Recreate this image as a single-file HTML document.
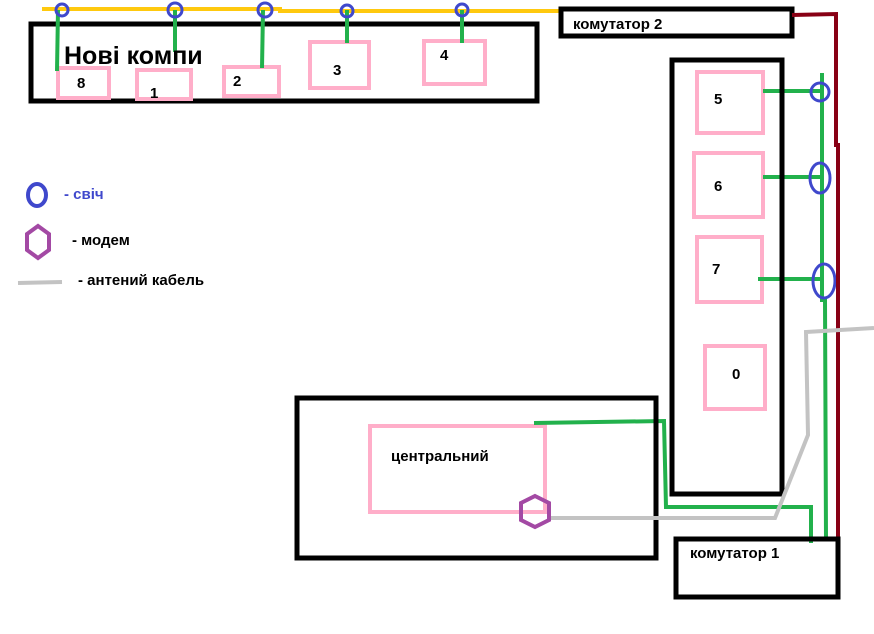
<!DOCTYPE html>
<html><head><meta charset="utf-8"><style>
html,body{margin:0;padding:0;background:#fff;}
svg{display:block;}
text{font-family:"Liberation Sans",sans-serif;font-weight:bold;}
</style></head><body>
<svg width="874" height="634" viewBox="0 0 874 634" xmlns="http://www.w3.org/2000/svg">
<rect width="874" height="634" fill="#fff"/>
<polyline points="42,9 280,9 280,11 560,11" fill="none" stroke="#ffc90e" stroke-width="4"/>
<rect x="31" y="24" width="506" height="77" fill="none" stroke="#000" stroke-width="5"/>
<g fill="none" stroke="#ffaec9" stroke-width="4">
<rect x="58" y="68" width="51" height="30"/>
<rect x="137" y="70" width="54" height="29"/>
<rect x="224" y="67" width="55" height="29"/>
<rect x="310" y="42" width="59" height="46"/>
<rect x="424" y="41" width="61" height="43"/>
<rect x="697" y="72" width="66" height="61"/>
<rect x="694" y="153" width="69" height="64"/>
<rect x="697" y="237" width="65" height="65"/>
<rect x="705" y="346" width="60" height="63"/>
<rect x="370" y="426" width="175" height="86"/>
</g>
<g stroke="#22b14c" stroke-width="4" fill="none">
<line x1="58" y1="10" x2="57" y2="71"/>
<line x1="175" y1="10" x2="175" y2="52"/>
<line x1="263" y1="10" x2="262" y2="68"/>
<line x1="347" y1="10" x2="347" y2="43"/>
<line x1="462" y1="10" x2="462" y2="43"/>
<polyline points="822,73 822,300 825,300 826,540"/>
<line x1="763" y1="91" x2="820" y2="91"/>
<line x1="763" y1="177" x2="820" y2="177"/>
<line x1="758" y1="279" x2="824" y2="279"/>
<polyline points="534,423 664,421 666,507 811,507 811,543"/>
</g>
<g fill="none" stroke="#3f48cc" stroke-width="3">
<circle cx="62" cy="10" r="6"/>
<circle cx="175" cy="10" r="7"/>
<circle cx="265" cy="10" r="7"/>
<circle cx="347" cy="11" r="6"/>
<circle cx="462" cy="10" r="6"/>
<ellipse cx="820" cy="92" rx="9" ry="9"/>
<ellipse cx="820" cy="178" rx="10" ry="15"/>
<ellipse cx="824" cy="281" rx="11" ry="17"/>
<ellipse cx="37" cy="195" rx="9" ry="11" stroke-width="4"/>
</g>
<text x="64" y="64" font-size="25">Нові компи</text>
<g font-size="15">
<text x="77" y="88">8</text>
<text x="150" y="98">1</text>
<text x="233" y="86">2</text>
<text x="333" y="75">3</text>
<text x="440" y="60">4</text>
<text x="714" y="104">5</text>
<text x="714" y="191">6</text>
<text x="712" y="274">7</text>
<text x="732" y="379">0</text>
<text x="391" y="461">центральний</text>
<text x="573" y="29">комутатор 2</text>
<text x="690" y="558">комутатор 1</text>
<text x="64" y="199" fill="#3f48cc">- свіч</text>
<text x="72" y="245">- модем</text>
<text x="78" y="285">- антений кабель</text>
</g>
<rect x="561" y="9" width="231" height="27" fill="none" stroke="#000" stroke-width="5"/>
<polyline points="792,15 836,14 836,145 838,145 838,538" fill="none" stroke="#880015" stroke-width="4"/>
<rect x="672" y="60" width="110" height="434" fill="none" stroke="#000" stroke-width="5"/>
<rect x="297" y="398" width="359" height="160" fill="none" stroke="#000" stroke-width="5"/>
<rect x="676" y="539" width="162" height="58" fill="none" stroke="#000" stroke-width="5"/>
<polyline points="874,328 806,332 808,435 775,518 550,518" fill="none" stroke="#c3c3c3" stroke-width="4"/>
<line x1="18" y1="283" x2="62" y2="282" stroke="#c3c3c3" stroke-width="4"/>
<polygon points="535,496 549,503 549,520 535,527 521,520 521,503" fill="none" stroke="#a349a4" stroke-width="4"/>
<polygon points="38,226 49,234 49,250 38,258 27,250 27,234" fill="none" stroke="#a349a4" stroke-width="4"/>
</svg>
</body></html>
